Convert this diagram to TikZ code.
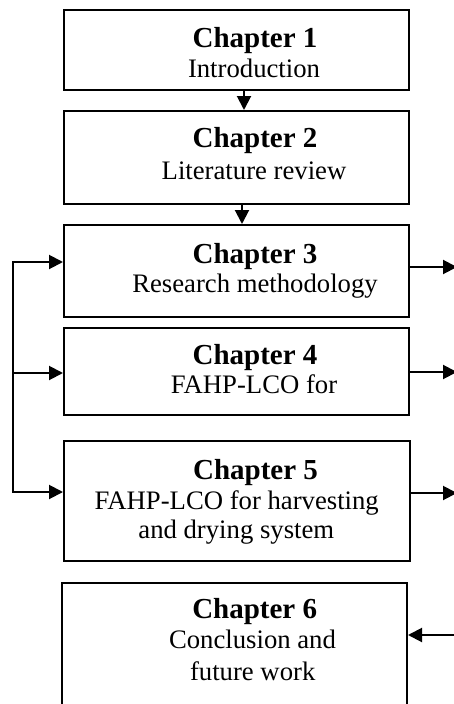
\documentclass[tikz,border=0pt]{standalone}
\usepackage{fontspec}
\setmainfont{Liberation Serif}
\usetikzlibrary{arrows.meta}

\begin{document}
\begin{tikzpicture}[x=1pt, y=-1pt,
  chbox/.style={draw, line width=2pt, rectangle, anchor=north west, inner sep=0pt, outer sep=1pt},
  head/.style={anchor=base, inner sep=0pt, font=\fontsize{29}{33}\selectfont\bfseries},
  body/.style={anchor=base, inner sep=0pt, font=\fontsize{26.7}{30}\selectfont},
  arr/.style={line width=2pt, -{Triangle[length=14pt,width=14pt]}},
  link/.style={line width=2pt}]

\useasboundingbox (0,0) rectangle (454,704);

% chapter boxes
\node[chbox, minimum width=345pt, minimum height=80pt]  (b1) at (63,9)   {};
\node[chbox, minimum width=345pt, minimum height=93pt]  (b2) at (63,110) {};
\node[chbox, minimum width=345pt, minimum height=92pt]  (b3) at (63,224) {};
\node[chbox, minimum width=345pt, minimum height=87pt]  (b4) at (63,327) {};
\node[chbox, minimum width=346pt, minimum height=120pt] (b5) at (63,440) {};
\node[chbox, minimum width=345pt, minimum height=135pt] (b6) at (61,582) {};

% box texts
\node[head] (t1a) at (255,47.7)  {Chapter 1};
\node[body] (t1b) at (254,77.3)  {Introduction};
\node[head] (t2a) at (255,147.7) {Chapter 2};
\node[body] (t2b) at (254,179)   {Literature review};
\node[head] (t3a) at (255,263.3) {Chapter 3};
\node[body] (t3b) at (255,292.7) {Research methodology};
\node[head] (t4a) at (255,364)   {Chapter 4};
\node[body] (t4b) at (254,393.7) {FAHP-LCO for};
\node[head] (t5a) at (255.5,479.3) {Chapter 5};
\node[body] (t5b) at (236.7,509.3) {FAHP-LCO for harvesting};
\node[body] (t5c) at (236.3,538.3) {and drying system};
\node[head] (t6a) at (254.7,618.3) {Chapter 6};
\node[body] (t6b) at (252.5,648.3) {Conclusion and};
\node[body] (t6c) at (252.7,680)   {future work};

% downward links
\draw[arr] ([xshift=7.5pt]b1.south) -- ([xshift=7.5pt]b2.north);
\draw[arr] ([xshift=5.5pt]b2.south) -- ([xshift=5.5pt]b3.north);

% left feedback bus
\coordinate (busTop) at (13,262);
\coordinate (busMid) at (13,373);
\coordinate (busBot) at (13,492);
\draw[link, {Triangle[length=14pt,width=14pt]}-{Triangle[length=14pt,width=14pt]}]
  (b3.west |- busTop) -- (busTop) -- (busBot) -- (b5.west |- busBot);
\draw[arr] (busMid) -- (b4.west |- busMid);

% right-hand outputs
\coordinate (r3) at (457,267);
\coordinate (r4) at (457,372);
\coordinate (r5) at (457,493);
\coordinate (r6) at (457,635);
\draw[arr] (b3.east |- r3) -- (r3);
\draw[arr] (b4.east |- r4) -- (r4);
\draw[arr] (b5.east |- r5) -- (r5);
\draw[arr] (r6) -- (b6.east |- r6);

\end{tikzpicture}
\end{document}
